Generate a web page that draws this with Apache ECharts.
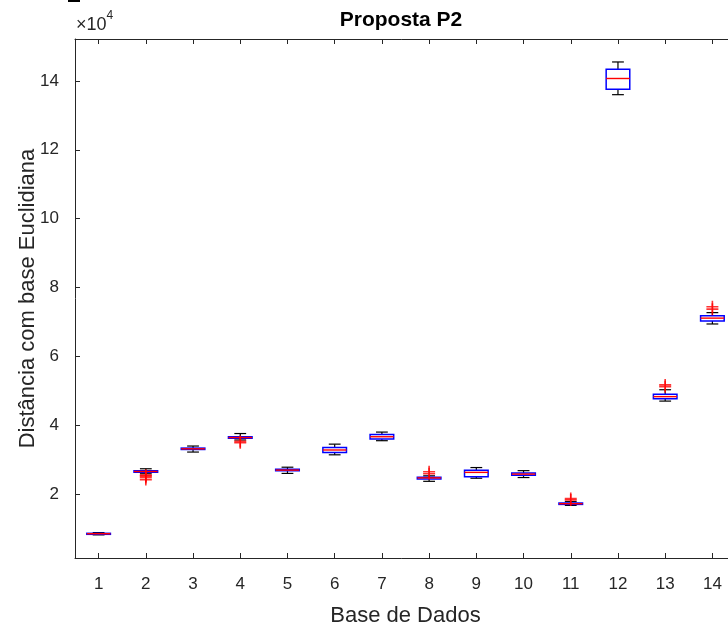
<!DOCTYPE html>
<html>
<head>
<meta charset="utf-8">
<script src="https://cdn.jsdelivr.net/npm/echarts@6/dist/echarts.min.js"></script>
<style>
  html, body { margin: 0; padding: 0; background: #fff; }
  #chart { width: 728px; height: 628px; }
</style>
</head>
<body>
<div id="chart"></div>
<script>
const bases = [1, 2, 3, 4, 5, 6, 7, 8, 9, 10, 11, 12, 13, 14];
const whiskerLow  = [8150, 25900, 32200, 35700, 26000, 31400, 35500, 23700, 24600, 24800, 16700, 136000, 47000, 69400];
const quart1      = [8380, 26350, 32950, 36200, 26750, 32100, 36000, 24400, 25000, 25500, 17000, 137600, 47700, 70300];
const medians     = [8480, 26560, 33140, 36420, 26960, 32800, 36650, 24700, 26300, 25800, 17200, 140700, 48300, 71100];
const quart3      = [8600, 26800, 33350, 36650, 27200, 33500, 37300, 24900, 26950, 26100, 17400, 143400, 49000, 71800];
const whiskerHigh = [8800, 27350, 33950, 37580, 27800, 34500, 38000, 25300, 27700, 26800, 17800, 145500, 50300, 72700];

const outlierBase  = [2, 2, 2, 2, 4, 4, 8, 8, 11, 11, 13, 13, 14, 14];
const outlierValue = [25500, 25200, 24800, 24200, 35300, 34900, 25900, 26500, 18300, 18700, 51200, 51700, 73700, 74400];

const yTicks = [20000, 40000, 60000, 80000, 100000, 120000, 140000];

const axisColor = '#262626';
const font = 'Liberation Sans, Arial, Helvetica, sans-serif';

const boxData = bases.map((b, i) => [b, whiskerLow[i], quart1[i], medians[i], quart3[i], whiskerHigh[i]]);
const outlierData = outlierBase.map((b, i) => [b, outlierValue[i]]);

const chart = echarts.init(document.getElementById('chart'));

const xCommon = {
    type: 'value',
    min: 0.5,
    max: 14.5,
    splitLine: { show: false },
    axisLine: { lineStyle: { color: axisColor, width: 1 } },
    axisTick: { inside: true, length: 5, customValues: bases, lineStyle: { color: axisColor } }
};
const yCommon = {
    type: 'value',
    min: 1430,
    max: 152170,
    splitLine: { show: false },
    axisLine: { show: true, lineStyle: { color: axisColor, width: 1 } },
    axisTick: { show: true, inside: true, length: 5, customValues: yTicks, lineStyle: { color: axisColor } }
};

const option = {
    animation: false,
    backgroundColor: '#fff',
    title: {
        text: 'Proposta P2',
        left: 396,
        top: 5,
        textAlign: 'center',
        textStyle: { fontFamily: font, fontWeight: 'bold', fontSize: 21, color: '#000' }
    },
    // o gráfico original está cortado à direita
    grid: { left: 75, top: 39, width: 661, height: 519, outerBoundsMode: 'none', containLabel: false },
    graphic: [
        { type: 'rect', shape: { x: 68, y: 0, width: 12, height: 2 }, style: { fill: '#000' } },
        {
            type: 'text', left: 76, top: 10,
            style: {
                text: '{a|×10}{b|4}',
                rich: {
                    a: { fontFamily: font, fontSize: 18, fill: axisColor, verticalAlign: 'bottom', lineHeight: 24 },
                    b: { fontFamily: font, fontSize: 12, fill: axisColor, verticalAlign: 'top', lineHeight: 24 }
                }
            }
        }
    ],
    xAxis: [
        Object.assign({}, xCommon, {
            position: 'bottom',
            name: 'Base de Dados',
            nameLocation: 'middle',
            nameGap: 47,
            nameMoveOverlap: false,
            nameTextStyle: { fontFamily: font, fontSize: 22, color: axisColor },
            axisLabel: { customValues: bases, margin: 18, fontFamily: font, fontSize: 17, color: axisColor }
        }),
        Object.assign({}, xCommon, { position: 'top', axisLabel: { show: false } })
    ],
    yAxis: [
        Object.assign({}, yCommon, {
            position: 'left',
            name: 'Distância com base Euclidiana',
            nameLocation: 'middle',
            nameGap: 36,
            nameMoveOverlap: false,
            nameTextStyle: { fontFamily: font, fontSize: 22, color: axisColor },
            axisLabel: {
                customValues: yTicks, margin: 16, fontFamily: font, fontSize: 17, color: axisColor,
                formatter: v => String(v / 10000)
            }
        }),
        Object.assign({}, yCommon, { position: 'right', axisLabel: { show: false } })
    ],
    series: [
        {
            type: 'custom',
            xAxisIndex: 0,
            yAxisIndex: 0,
            data: boxData,
            renderItem: function (params, api) {
                const x = api.value(0);
                const lo = api.coord([x, api.value(1)]);
                const q1 = api.coord([x, api.value(2)]);
                const md = api.coord([x, api.value(3)]);
                const q3 = api.coord([x, api.value(4)]);
                const hi = api.coord([x, api.value(5)]);
                const halfBox = api.size([0.5, 0])[0] / 2;
                const halfCap = api.size([0.25, 0])[0] / 2;
                const black = { stroke: '#000', lineWidth: 1.2 };
                return {
                    type: 'group',
                    children: [
                        { type: 'line', shape: { x1: lo[0], y1: lo[1], x2: q1[0], y2: q1[1] }, style: black },
                        { type: 'line', shape: { x1: q3[0], y1: q3[1], x2: hi[0], y2: hi[1] }, style: black },
                        { type: 'line', shape: { x1: lo[0] - halfCap, y1: lo[1], x2: lo[0] + halfCap, y2: lo[1] }, style: black },
                        { type: 'line', shape: { x1: hi[0] - halfCap, y1: hi[1], x2: hi[0] + halfCap, y2: hi[1] }, style: black },
                        {
                            type: 'rect',
                            shape: { x: q3[0] - halfBox, y: q3[1], width: halfBox * 2, height: Math.max(q1[1] - q3[1], 1) },
                            style: { fill: 'none', stroke: '#0000ff', lineWidth: 1.5 }
                        },
                        {
                            type: 'line',
                            shape: { x1: md[0] - halfBox, y1: md[1], x2: md[0] + halfBox, y2: md[1] },
                            style: { stroke: '#ff0000', lineWidth: 1.4 }
                        }
                    ]
                };
            },
            z: 2
        },
        {
            type: 'scatter',
            xAxisIndex: 0,
            yAxisIndex: 0,
            data: outlierData,
            symbol: 'path://M0,5L10,5M5,0L5,10',
            symbolSize: 12,
            itemStyle: { color: 'none', borderColor: '#ff0000', borderWidth: 1.6 },
            z: 3
        }
    ]
};

chart.setOption(option);
</script>
</body>
</html>
